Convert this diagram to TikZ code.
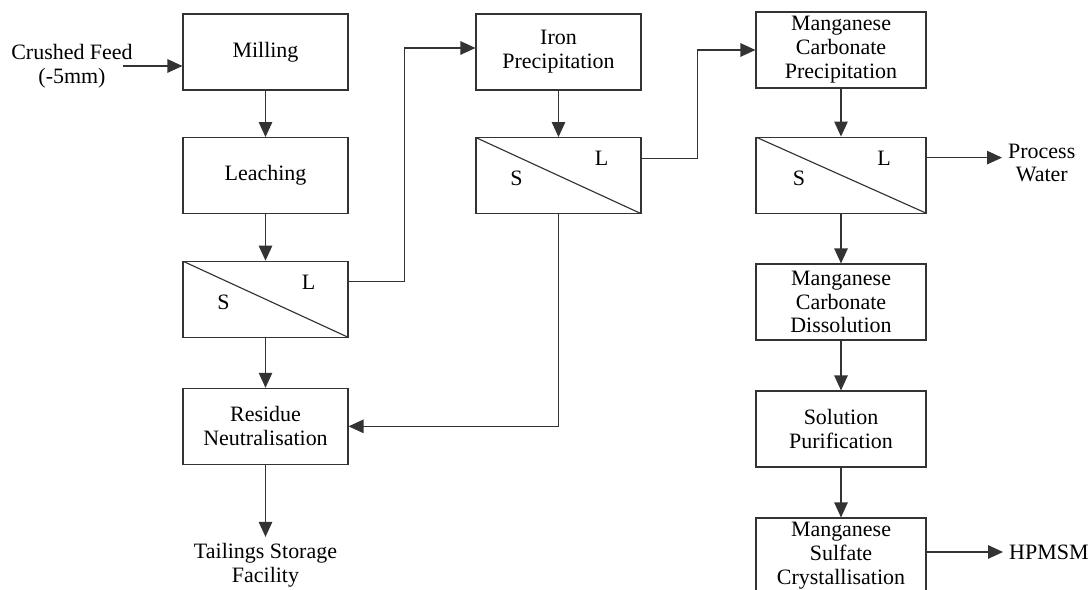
\documentclass[tikz,border=0pt]{standalone}
\usepackage{fontspec}
\setmainfont{Liberation Serif}
\usetikzlibrary{arrows.meta,positioning}

\begin{document}
\begin{tikzpicture}[
  x=0.02cm, y=-0.02cm,
  font=\fontsize{12.5}{13.6}\selectfont,
  node distance=0.93cm,
  box/.style={draw=black!80, line width=0.65pt, align=center, minimum width=3.3cm, minimum height=1.52cm, inner sep=1pt},
  wbox/.style={box, minimum width=3.4cm},
  sepbox/.style={box, path picture={\draw[black!80, line width=0.65pt] (path picture bounding box.north west) -- (path picture bounding box.south east);}},
  lbl/.style={align=center},
  arr/.style={-{Triangle[length=3mm, width=2.7mm]}, line width=0.65pt, draw=black!80}
]
  \useasboundingbox (0,0) rectangle (1089,590);

  % first column
  \node[box] (mill) at (265.5,52) {Milling};
  \node[box, below=of mill] (leach) {Leaching};
  \node[sepbox, below=of leach] (sep1) {};
  \node[box, below=1.0cm of sep1] (resid) {Residue\\Neutralisation};
  \node[lbl, below=1.44cm of resid] (tsf) {Tailings Storage\\Facility};
  \node[lbl, inner xsep=0pt] (feed) at (72,66) {Crushed Feed\\(-5mm)};

  % second column
  \node[box] (iron) at (558.5,52) {Iron\\Precipitation};
  \node[sepbox, below=of iron] (sep2) {};

  % third column
  \node[wbox] (mncp) at (841,50) {Manganese\\Carbonate\\Precipitation};
  \node[sepbox, wbox, below=0.96cm of mncp] (sep3) {};
  \node[wbox] (mncd) at (841,302) {Manganese\\Carbonate\\Dissolution};
  \node[wbox] (purif) at (841,429) {Solution\\Purification};
  \node[wbox] (cryst) at (841,556) {Manganese\\Sulfate\\Crystallisation};
  \node[lbl, anchor=west] (water) at (1002,163) {Process\\Water};
  \node[lbl, anchor=west] (hpmsm) at (1003,552) {HPMSM};

  % solid / liquid labels
  \foreach \s in {sep1,sep2,sep3} {
    \node (\s-s) at ([shift={(-0.84cm,-0.06cm)}]\s.center) {S};
    \node (\s-l) at ([shift={(0.86cm,0.34cm)}]\s.center) {L};
  }

  \draw[arr] ([xshift=-0.2cm]feed.east) -- (feed.east -| mill.west);
  \draw[arr] (mill) -- (leach);
  \draw[arr] (leach) -- (sep1);
  \draw[arr] (sep1) -- (resid);
  \draw[arr] (resid) -- (tsf);
  \draw[arr] ([yshift=0.35cm]sep1.east) -- ++(1.12cm,0) |- ([yshift=0.08cm]iron.west);
  \draw[arr] (iron) -- (sep2);
  \draw[arr] (sep2.south) |- (resid.east);
  \draw[arr] ([yshift=0.35cm]sep2.east) -- ++(1.12cm,0) |- (mncp.west);
  \draw[arr] (mncp) -- (sep3);
  \draw[arr] ([yshift=0.35cm]sep3.east) -- ([yshift=0.35cm]sep3.east -| water.west);
  \draw[arr] (sep3) -- (mncd);
  \draw[arr] (mncd) -- (purif);
  \draw[arr] (purif) -- (cryst);
  \draw[arr] (cryst.east |- hpmsm.west) -- (hpmsm.west);
\end{tikzpicture}
\end{document}
